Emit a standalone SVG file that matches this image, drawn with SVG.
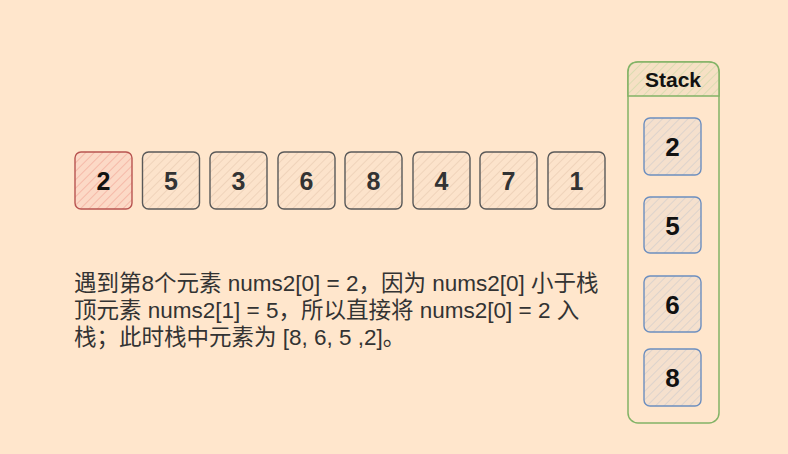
<svg xmlns="http://www.w3.org/2000/svg" width="788" height="454" viewBox="0 0 788 454">
<defs>
<pattern id="hGray" patternUnits="userSpaceOnUse" width="6" height="6" patternTransform="rotate(45)">
<rect width="6" height="6" fill="#fce3cb"/>
<line x1="0" y1="0" x2="0" y2="6" stroke="#efd3ba" stroke-width="2"/>
</pattern>
<pattern id="hRed" patternUnits="userSpaceOnUse" width="6" height="6" patternTransform="rotate(45)">
<rect width="6" height="6" fill="#fcd9c6"/>
<line x1="0" y1="0" x2="0" y2="6" stroke="#f5b9a8" stroke-width="2"/>
</pattern>
<pattern id="hGreen" patternUnits="userSpaceOnUse" width="6" height="6" patternTransform="rotate(45)">
<rect width="6" height="6" fill="#f6e0c4"/>
<line x1="0" y1="0" x2="0" y2="6" stroke="#dcdcb2" stroke-width="2"/>
</pattern>
<pattern id="hBlue" patternUnits="userSpaceOnUse" width="6" height="6" patternTransform="rotate(45)">
<rect width="6" height="6" fill="#f5e0cd"/>
<line x1="0" y1="0" x2="0" y2="6" stroke="#ddd3cc" stroke-width="2"/>
</pattern>
</defs>
<style>
.num{font-family:"Liberation Sans",Arial,sans-serif;font-weight:bold;font-size:25px;text-anchor:middle;fill:#333}
.snum{font-family:"Liberation Sans",Arial,sans-serif;font-weight:bold;font-size:26px;text-anchor:middle;fill:#111}
.box{fill:url(#hGray);stroke:#595959;stroke-width:1.4}
.rbox{fill:url(#hRed);stroke:#b85450;stroke-width:1.4}
.bbox{fill:url(#hBlue);stroke:#6c8ebf;stroke-width:1.4}
.para{font-family:"Liberation Sans","Noto Sans CJK SC",sans-serif;font-size:22.5px;fill:#333}
.title{font-family:"Liberation Sans",Arial,sans-serif;font-weight:bold;font-size:21px;text-anchor:middle;fill:#111}
</style>
<rect width="788" height="454" fill="#ffe6cc"/>

<g id="n2red"><rect class="rbox" x="75" y="152" width="57" height="57" rx="6"/><text class="num" x="103.5" y="190" style="fill:#111">2</text></g>
<g id="n5"><rect class="box" x="142.5" y="152" width="57" height="57" rx="6"/><text class="num" x="171" y="190">5</text></g>
<g id="n3"><rect class="box" x="210" y="152" width="57" height="57" rx="6"/><text class="num" x="238.5" y="190">3</text></g>
<g id="n6"><rect class="box" x="278" y="152" width="57" height="57" rx="6"/><text class="num" x="306.5" y="190">6</text></g>
<g id="n8"><rect class="box" x="345" y="152" width="57" height="57" rx="6"/><text class="num" x="373.5" y="190">8</text></g>
<g id="n4"><rect class="box" x="413" y="152" width="57" height="57" rx="6"/><text class="num" x="441.5" y="190">4</text></g>
<g id="n7"><rect class="box" x="480" y="152" width="57" height="57" rx="6"/><text class="num" x="508.5" y="190">7</text></g>
<g id="n1"><rect class="box" x="548" y="152" width="57" height="57" rx="6"/><text class="num" x="576.5" y="190">1</text></g>

<g id="stack">
<rect x="628" y="62" width="91" height="361" rx="10" fill="none" stroke="#82b366" stroke-width="1.5"/>
<path d="M628,96 V72 Q628,62 638,62 H709 Q719,62 719,72 V96 Z" fill="url(#hGreen)" stroke="#82b366" stroke-width="1.5"/>
<text class="title" x="673" y="87">Stack</text>
</g>
<g id="s2"><rect class="bbox" x="644" y="118" width="57" height="57" rx="6"/><text class="snum" x="672.5" y="156">2</text></g>
<g id="s5"><rect class="bbox" x="644" y="197" width="57" height="56" rx="6"/><text class="snum" x="672.5" y="235">5</text></g>
<g id="s6"><rect class="bbox" x="644" y="276" width="57" height="56" rx="6"/><text class="snum" x="672.5" y="314">6</text></g>
<g id="s8"><rect class="bbox" x="644" y="349" width="57" height="57" rx="6"/><text class="snum" x="672.5" y="387">8</text></g>

<g id="desc">
<text class="para" x="74" y="291">遇到第8个元素 nums2[0] = 2，因为 nums2[0] 小于栈</text>
<text class="para" x="74" y="318">顶元素 nums2[1] = 5，所以直接将 nums2[0] = 2 入</text>
<text class="para" x="74" y="345">栈；此时栈中元素为 [8, 6, 5 ,2]。</text>
</g>
</svg>
